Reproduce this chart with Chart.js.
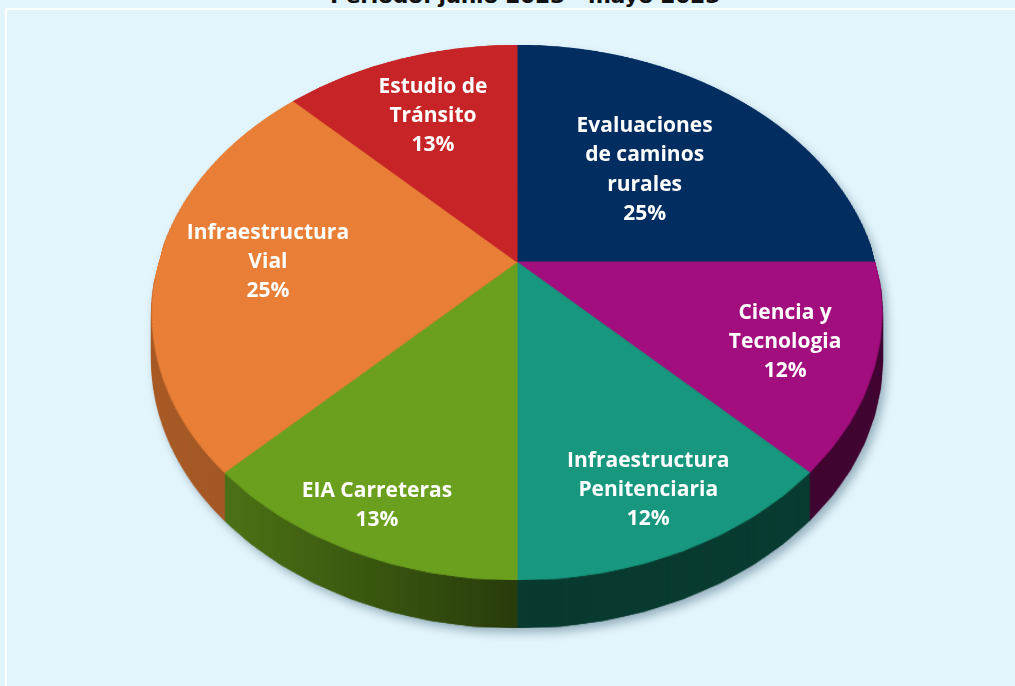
<!DOCTYPE html>
<html lang="es">
<head>
<meta charset="utf-8">
<title>Proyectos por área</title>
<script src="https://cdn.jsdelivr.net/npm/chart.js@4.4.1/dist/chart.umd.min.js"></script>
<style>
  html, body { margin: 0; padding: 0; }
  body {
    width: 1015px; height: 686px; overflow: hidden; position: relative;
    background: #E3F5FC;
  }
  #frame {
    position: absolute; left: 5px; top: 8px; width: 1100px; height: 800px;
    border-top: 2px solid #fff; border-left: 2px solid #fff;
  }
  #title {
    position: absolute; left: 525px; top: -15px; transform: translateX(-50%);
    white-space: nowrap; font: bold 22px "DejaVu Sans", sans-serif;
    letter-spacing: -0.4px; line-height: 22px; color: #111;
  }
  #chart { position: absolute; left: 0; top: 0; }
</style>
</head>
<body>
<div id="frame"></div>
<div id="title">Periodo: junio 2023 - mayo 2025</div>
<canvas id="chart" width="1015" height="686"></canvas>

<script>
/* =========================
   DATA
========================= */

const categories = [
  "Evaluaciones de caminos rurales",
  "Ciencia y Tecnologia",
  "Infraestructura Penitenciaria",
  "EIA Carreteras",
  "Infraestructura Vial",
  "Estudio de Tránsito"
];

const shares = [25, 12.5, 12.5, 12.5, 25, 12.5];

const percentLabels = ["25%", "12%", "12%", "13%", "25%", "13%"];

const colors = ["#022D60", "#A30E7E", "#17977D", "#6BA01F", "#E97F37", "#C72427"];


/* =========================
   LAYOUT (tilted pie)
========================= */

// how each label is wrapped, and how far out from the centre it sits
const labelLines = [
  ["Evaluaciones", "de caminos", "rurales"],
  ["Ciencia y", "Tecnologia"],
  ["Infraestructura", "Penitenciaria"],
  ["EIA Carreteras"],
  ["Infraestructura", "Vial"],
  ["Estudio de", "Tránsito"]
];
const labelRadius = [0.54, 0.765, 0.82, 0.867, 0.695, 0.686];

// perspective of the top face: centre, depth of tilt, widths
const PIE = { cx: 517, cy: 262, T: 258, K: 0.1888, S: 358.4, depth: 48 };

function project(u, v) {
  const w = 1 - PIE.K * v;
  return { x: PIE.cx + PIE.S * u / w, y: PIE.cy + PIE.T * v / w };
}

function makeCanvas(w, h) {
  const c = document.createElement("canvas");
  c.width = w; c.height = h;
  return c;
}


/* =========================
   PLUGIN: 3D look
========================= */

const pie3d = {
  id: "pie3d",
  afterDatasetsDraw(chart) {
    const ctx = chart.ctx;
    const W = chart.width, H = chart.height;
    const arcs = chart.getDatasetMeta(0).data;
    const R = arcs[0].outerRadius, scx = arcs[0].x, scy = arcs[0].y;

    // grab the flat pie Chart.js just drew
    const src = makeCanvas(W, H);
    src.getContext("2d").drawImage(chart.canvas, 0, 0);
    ctx.clearRect(0, 0, W, H);

    // top face, row by row in perspective
    const top = makeCanvas(W, H);
    const tctx = top.getContext("2d");
    const yTop = Math.floor(PIE.cy - PIE.T / (1 + PIE.K));
    const yBot = Math.ceil(PIE.cy + PIE.T / (1 - PIE.K));
    for (let y = yTop; y <= yBot; y++) {
      const d = y + 0.5 - PIE.cy;
      const v = d / (PIE.T + d * PIE.K);
      if (Math.abs(v) > 1) continue;
      const half = PIE.S / (1 - PIE.K * v);
      tctx.drawImage(src, scx - R, scy + v * R - 0.5, 2 * R, 1,
                     PIE.cx - half, y, 2 * half, 1);
    }

    // side wall: stacked copies, then darkened
    const side = makeCanvas(W, H);
    const sctx = side.getContext("2d");
    for (let o = PIE.depth; o >= 1; o--) sctx.drawImage(top, 0, o);
    sctx.globalCompositeOperation = "source-atop";
    const g = sctx.createLinearGradient(150, 0, 885, 0);
    g.addColorStop(0, "rgba(0,0,0,0.28)");
    g.addColorStop(0.12, "rgba(0,0,0,0.30)");
    g.addColorStop(0.49, "rgba(0,0,0,0.62)");
    g.addColorStop(1, "rgba(0,0,0,0.60)");
    sctx.fillStyle = g;
    sctx.fillRect(0, 0, W, H);

    ctx.save();
    ctx.shadowColor = "rgba(60,95,115,0.45)";
    ctx.shadowBlur = 10;
    ctx.shadowOffsetX = 4;
    ctx.shadowOffsetY = 5;
    ctx.drawImage(side, 0, 0);
    ctx.restore();
    ctx.drawImage(top, 0, 0);

    // labels
    ctx.save();
    ctx.fillStyle = "#fff";
    ctx.font = 'bold 21px "Open Sans", sans-serif';
    ctx.textAlign = "center";
    ctx.textBaseline = "middle";
    const lh = 29.3;
    arcs.forEach((arc, i) => {
      const mid = (arc.startAngle + arc.endAngle) / 2;
      const p = project(Math.cos(mid) * labelRadius[i], Math.sin(mid) * labelRadius[i]);
      const lines = labelLines[i].concat(percentLabels[i]);
      const y0 = p.y - (lines.length - 1) * lh / 2;
      lines.forEach((t, k) => ctx.fillText(t, p.x, y0 + k * lh));
    });
    ctx.restore();
  }
};


/* =========================
   CHART
========================= */

new Chart(document.getElementById("chart"), {
  type: "pie",
  data: {
    labels: categories,
    datasets: [{
      data: shares,
      backgroundColor: colors,
      borderColor: colors,
      borderWidth: 1
    }]
  },
  options: {
    responsive: false,
    devicePixelRatio: 1,
    animation: false,
    layout: { padding: 4 },
    plugins: {
      legend: { display: false },
      title: { display: false },
      tooltip: { enabled: false }
    }
  },
  plugins: [pie3d]
});
</script>
</body>
</html>
